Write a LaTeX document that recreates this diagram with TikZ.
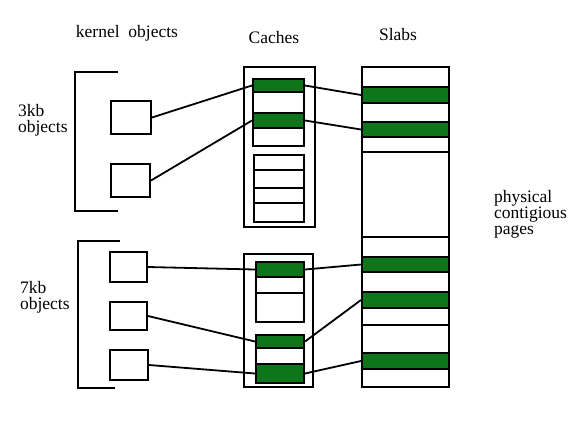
\documentclass[tikz,border=0pt]{standalone}
\usepackage{fontspec}
\setmainfont{Liberation Serif}
\usepackage{tikz}
\usetikzlibrary{positioning}
\definecolor{sgreen}{RGB}{14,118,26}

\begin{document}
\begin{tikzpicture}[x=1pt, y=-1pt, line width=2pt]
\tikzstyle{box}=[rectangle, draw, fill=white, inner sep=0pt]
\tikzstyle{cell}=[rectangle, draw, inner sep=0pt]
\tikzstyle{wire}=[line width=1.8pt]
\tikzstyle{lbl}=[inner sep=0pt, font=\fontsize{17.5}{16}\selectfont]
\useasboundingbox (0,0) rectangle (583,429);
% headings
\node[lbl] (kh) at (127,33) {kernel\ \ objects};
\node[lbl] (ch) at (274,38) {Caches};
\node[lbl] (sh) at (398,35) {Slabs};
\node[lbl, align=left, anchor=west] (k3) at (17,120) {3kb\\objects};
\node[lbl, align=left, anchor=west] (k7) at (19,297) {7kb\\objects};
\node[lbl, align=left, anchor=west] (pp) at (493,214) {physical\\contigious\\pages};
% brackets
\draw (118,72) -- (75,72) -- (75,211) -- (118,211);
\draw (120,241) -- (78,241) -- (78,388) -- (115,388);
% kernel objects
\foreach \n/\l/\r/\t/\b in {o1/111/151/101/134, o2/111/150/164/197, o3/110/147/252/282,
                            o4/110/147/302/330, o5/110/148/350/380}{
  \node[box, minimum width={\r-\l}, minimum height={\b-\t}] (\n) at ({(\l+\r)/2},{(\t+\b)/2}) {};}
% caches
\foreach \n/\l/\r/\t/\b in {c1/244/315/67/227, c2/244/313/254/387}{
  \node[box, minimum width={\r-\l}, minimum height={\b-\t}] (\n) at ({(\l+\r)/2},{(\t+\b)/2}) {};}
\foreach \n/\l/\r/\t/\b/\c in {a1/253/304/79/92/sgreen, a2/253/304/92/113/white, a3/253/304/113/128/sgreen, a4/253/304/128/146/white,
                               b1/254/304/155/170/white, b2/254/304/170/188/white, b3/254/304/188/203/white, b4/254/304/203/222/white,
                               d1/256/304/262/277/sgreen, d2/256/304/277/293/white, d3/256/304/293/322/white,
                               e1/256/304/335/348/sgreen, e2/256/304/348/364/white, e3/256/304/364/383/sgreen}{
  \node[cell, fill=\c, minimum width={\r-\l}, minimum height={\b-\t}] (\n) at ({(\l+\r)/2},{(\t+\b)/2}) {};}
% slabs
\foreach \n/\t/\b/\c in {s1/67/87/white, g1/87/103/sgreen, s2/103/122/white, g2/122/137/sgreen, s3/137/152/white,
                         s4/152/237/white, s5/237/257/white, g3/257/272/sgreen, s6/272/292/white, g4/292/308/sgreen,
                         s7/308/325/white, s8/325/353/white, g5/353/369/sgreen, s9/369/387/white}{
  \node[cell, fill=\c, minimum width=87, minimum height={\b-\t}] (\n) at (405.5,{(\t+\b)/2}) {};}
% links
\foreach \i/\j in {o1/a1, o2/a3, o3/d1, o4/e1, o5/e3, a1/g1, a3/g2, d1/g3, e1/g4, e3/g5}{
  \draw[wire] (\i.east) -- (\j.west);}
\end{tikzpicture}
\end{document}
